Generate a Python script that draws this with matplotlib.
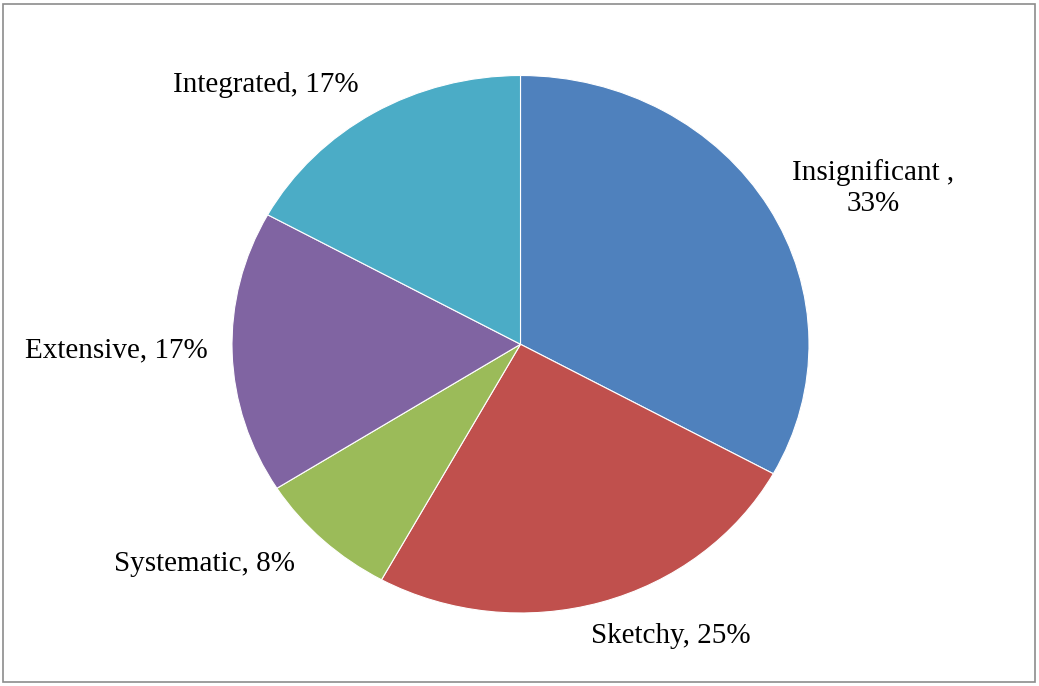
import matplotlib
matplotlib.use("Agg")
import matplotlib.pyplot as plt
from matplotlib.patches import Rectangle

# share of cases per category (clockwise from 12 o'clock)
categories = ["Insignificant", "Sketchy", "Systematic", "Extensive", "Integrated"]
shares = [33, 25, 8, 17, 17]
colors = ["#4F81BD", "#C0504D", "#9BBB59", "#8064A2", "#4BACC6"]
label_text = ["Insignificant ,\n33%", "Sketchy, 25%", "Systematic, 8%",
              "Extensive, 17%", "Integrated, 17%"]
# label centres in figure pixels
label_px = [(873, 188), (671, 636), (205, 564), (116, 350), (266, 85)]

W, H = 1039, 686
plt.rcParams["font.family"] = ["Liberation Serif", "DejaVu Serif"]
fig = plt.figure(figsize=(W / 100, H / 100), dpi=100)

# pie box in pixels (slightly wider than tall)
x0, x1, y0, y1 = 232, 809, 75.5, 613
ax = fig.add_axes([x0 / W, 1 - y1 / H, (x1 - x0) / W, (y1 - y0) / H])
ax.pie(shares, colors=colors, startangle=90, counterclock=False,
       wedgeprops=dict(edgecolor="white", linewidth=0.8))
ax.set_aspect("auto")
ax.set_xlim(-1, 1)
ax.set_ylim(-1, 1)
ax.axis("off")

for txt, (px, py) in zip(label_text, label_px):
    fig.text(px / W, 1 - py / H, txt, ha="center", va="center",
             fontsize=21, linespacing=1.25)

fig.patches.append(Rectangle((3 / W, 4 / H), (1035 - 3) / W, (682 - 4) / H,
                             transform=fig.transFigure, fill=False,
                             edgecolor="#8c8c8c", linewidth=1.2))

fig.savefig("out.png", dpi=100)
